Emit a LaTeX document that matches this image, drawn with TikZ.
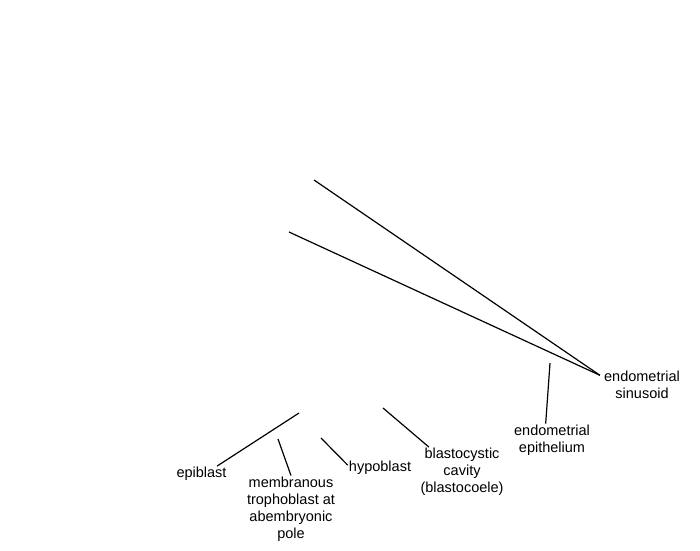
\documentclass[tikz,border=0pt]{standalone}
\usepackage{fontspec}
\setmainfont{Liberation Sans}
\usetikzlibrary{positioning,calc}

\begin{document}
\begin{tikzpicture}[x=1pt, y=-1pt,
    lbl/.style={align=center, inner sep=1pt, font=\fontsize{14.5}{17}\selectfont},
    pointer/.style={line width=1.2pt, black}]
    \useasboundingbox (0,0) rectangle (700,550);

    % Labels
    \node[lbl, inner sep=4pt] (sinusoid) at (642,385) {endometrial\\sinusoid};
    \node[lbl] (epithelium) at (552,440) {endometrial\\epithelium};
    \node[lbl] (epiblast) at (201.5,474) {epiblast};
    \node[lbl] (membranous) at (291,509) {membranous\\trophoblast at\\abembryonic\\pole};
    \node[lbl] (hypoblast) at (380,468) {hypoblast};
    \node[lbl] (cavity) at (462,472) {blastocystic\\cavity\\(blastocoele)};

    % Pointer tips
    \coordinate (sinTipA) at (314,180);
    \coordinate (sinTipB) at (289,232);
    \coordinate (epithTip) at (550,363);
    \coordinate (epiblastTip) at (299,413);
    \coordinate (membTip) at (278,439);
    \coordinate (hypoTip) at (321,438);
    \coordinate (cavityTip) at (383,408);

    \draw[pointer] (sinTipA) -- (sinusoid.167);
    \draw[pointer] (sinTipB) -- (sinusoid.167);
    \draw[pointer] (epithTip) -- (epithelium.111);
    \draw[pointer] (epiblastTip) -- (epiblast.27);
    \draw[pointer] (membTip) -- (membranous.north);
    \draw[pointer] (hypoTip) -- (hypoblast.175);
    \draw[pointer] (cavityTip) -- (cavity.143);
\end{tikzpicture}
\end{document}
